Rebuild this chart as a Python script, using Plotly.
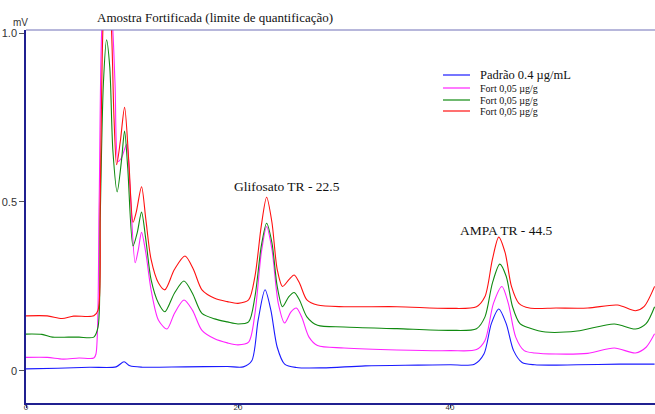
import plotly.graph_objects as go

# ---- data (retention time in min, signal in mV) ----
red_t = [0, 2, 3.4, 4.5, 6.4, 6.8, 7.0, 7.3, 7.6, 8.0, 8.3, 8.55, 8.9, 9.3, 9.7, 10.1, 10.4, 10.9, 11.3, 11.8,
         12.5, 13.1, 14.0, 15.0, 15.8, 16.6, 17.8, 19, 20, 21, 21.6, 22.2, 22.7, 23.2, 23.7, 24.2, 24.8, 25.3,
         25.8, 26.5, 27.5, 30, 35, 40, 42.5, 43.3, 44.0, 44.6, 45.2, 45.8, 46.5, 47.5, 50, 53, 55.8, 57.5, 58.3, 59.3]
red_v = [0.163, 0.163, 0.155, 0.162, 0.163, 0.18, 0.5, 1.05, 1.15, 1.05, 0.75, 0.61, 0.68, 0.78, 0.62, 0.44, 0.47,
         0.545, 0.45, 0.33, 0.26, 0.24, 0.30, 0.34, 0.30, 0.24, 0.215, 0.205, 0.2, 0.21, 0.28, 0.43, 0.514, 0.44,
         0.30, 0.25, 0.27, 0.284, 0.26, 0.21, 0.195, 0.19, 0.19, 0.185, 0.19, 0.22, 0.33, 0.396, 0.35, 0.25, 0.2,
         0.186, 0.186, 0.186, 0.195, 0.178, 0.19, 0.25]

green_t = [0, 1.5, 2.5, 4, 5, 6.4, 6.8, 7.0, 7.3, 7.6, 7.9, 8.2, 8.6, 9.0, 9.3, 9.6, 10.1, 10.5, 10.9, 11.3, 11.8,
           12.5, 13.1, 14.0, 14.9, 15.7, 16.6, 17.8, 19, 20, 21, 21.6, 22.2, 22.7, 23.2, 23.7, 24.2, 24.8, 25.3,
           25.8, 26.5, 27.5, 30, 35, 40, 42.5, 43.3, 44.0, 44.7, 45.3, 45.9, 46.6, 47.5, 49, 52, 55.5, 57.5, 58.5, 59.3]
green_v = [0.109, 0.108, 0.10, 0.10, 0.10, 0.10, 0.13, 0.45, 0.85, 0.98, 0.9, 0.65, 0.53, 0.62, 0.71, 0.6, 0.37,
           0.41, 0.47, 0.39, 0.27, 0.20, 0.175, 0.23, 0.266, 0.23, 0.17, 0.154, 0.145, 0.139, 0.145, 0.22, 0.37,
           0.437, 0.38, 0.25, 0.19, 0.22, 0.232, 0.21, 0.16, 0.135, 0.13, 0.125, 0.12, 0.125, 0.16, 0.26, 0.316,
           0.28, 0.19, 0.14, 0.127, 0.115, 0.118, 0.139, 0.124, 0.14, 0.19]

magenta_t = [0, 2, 3.5, 5, 6.4, 6.6, 6.9, 7.2, 7.6, 8.1, 8.4, 8.7, 9.0, 9.5, 9.8, 10.3, 10.6, 10.9, 11.3, 11.8,
             12.5, 13.3, 14.0, 14.9, 15.7, 16.6, 17.8, 19, 20, 21, 21.6, 22.2, 22.7, 23.2, 23.8, 24.4, 25.0, 25.5,
             26.0, 26.7, 27.5, 30, 35, 40, 42.5, 43.3, 44.1, 44.9, 45.5, 46.2, 47, 48, 50, 53, 55.5, 57.5, 58.5, 59.3]
magenta_v = [0.040, 0.040, 0.035, 0.038, 0.038, 0.05, 0.5, 1.05, 1.15, 1.05, 0.85, 0.62, 0.63, 0.67, 0.55, 0.32,
             0.36, 0.41, 0.35, 0.24, 0.15, 0.124, 0.17, 0.21, 0.18, 0.12, 0.095, 0.083, 0.077, 0.085, 0.17, 0.35,
             0.427, 0.36, 0.2, 0.142, 0.175, 0.186, 0.16, 0.1, 0.075, 0.068, 0.062, 0.06, 0.063, 0.09, 0.2, 0.25,
             0.2, 0.1, 0.06, 0.053, 0.05, 0.052, 0.068, 0.053, 0.07, 0.11]

blue_t = [0, 3, 6, 8.5, 9.25, 9.8, 11, 15, 19, 20.5, 21.3, 21.9, 22.55, 23.1, 23.7, 24.4, 25.5, 28, 32, 37, 40,
          42.3, 43.2, 43.9, 44.6, 45.3, 46.0, 46.8, 48, 52, 56, 59.3]
blue_v = [0.006, 0.008, 0.011, 0.012, 0.027, 0.015, 0.011, 0.012, 0.013, 0.012, 0.03, 0.15, 0.24, 0.18, 0.07, 0.02,
          0.01, 0.009, 0.015, 0.017, 0.018, 0.02, 0.05, 0.14, 0.183, 0.14, 0.06, 0.025, 0.018, 0.018, 0.02, 0.02]

series_names = ["Padrão 0.4 µg/mL", "Fort 0,05 µg/g", "Fort 0,05 µg/g", "Fort 0,05 µg/g"]
series_colors = ["#1a1aff", "#ff22ff", "#108a10", "#ff1010"]
series_t = [blue_t, magenta_t, green_t, red_t]
series_v = [blue_v, magenta_v, green_v, red_v]

x_ticks = [0, 20, 40]
y_ticks = [0, 0.5, 1.0]
y_ticktext = ["0", "0.5", "1.0"]

peak_labels = ["Glifosato TR - 22.5", "AMPA TR - 44.5"]
peak_label_x = [24.6, 45.3]
peak_label_y = [0.545, 0.417]

fig = go.Figure()
for t, v, c, n in zip(series_t, series_v, series_colors, series_names):
    fig.add_trace(go.Scatter(x=t, y=v, mode="lines", name=n,
                             line=dict(color=c, width=1.1, shape="spline", smoothing=0.8),
                             showlegend=False))

W, H = 655, 414
ml, mr, mt, mb = 26, 0, 30, 11
pw, ph = W - ml - mr, H - mt - mb

fig.update_layout(
    width=W, height=H,
    margin=dict(l=ml, r=mr, t=mt, b=mb, autoexpand=False),
    paper_bgcolor="white", plot_bgcolor="white",
    showlegend=False,
    xaxis=dict(range=[0, 59.34], tickvals=x_ticks, showgrid=False, zeroline=False, automargin=False,
               showline=True, linecolor="#202090", linewidth=1.5,
               ticks="outside", ticklen=3, tickcolor="#202090", ticklabelstandoff=-7,
               tickfont=dict(family="Liberation Sans", size=8, color="#333")),
    yaxis=dict(range=[-0.095, 1.009], tickvals=y_ticks, ticktext=y_ticktext, automargin=False,
               showgrid=False, zeroline=False,
               showline=True, linecolor="#202090", linewidth=1.5,
               ticks="outside", ticklen=5, tickcolor="#555",
               tickfont=dict(family="Liberation Sans", size=11, color="#333")),
)

# top frame line
fig.add_shape(type="line", xref="paper", yref="paper", x0=0, x1=1, y0=1, y1=1,
              line=dict(color="#7070b8", width=1.2))

# title & unit
fig.add_annotation(text="Amostra Fortificada (limite de quantificação)", xref="paper", yref="paper",
                   x=(215 - ml) / pw, y=1 + 12 / ph, showarrow=False, xanchor="center", yanchor="middle",
                   font=dict(family="Liberation Serif", size=13, color="#111"))
fig.add_annotation(text="mV", xref="paper", yref="paper", x=(11 - ml) / pw, y=1 + 7 / ph,
                   showarrow=False, xanchor="left", yanchor="middle",
                   font=dict(family="Liberation Sans", size=10, color="#333"))

for txt, px_, py_ in zip(peak_labels, peak_label_x, peak_label_y):
    fig.add_annotation(text=txt, x=px_, y=py_, showarrow=False, xanchor="center", yanchor="middle",
                       font=dict(family="Liberation Serif", size=13.5, color="#111"))

# legend (compact, drawn in paper coordinates)
row_y = [75, 88, 100, 111]
row_size = [12.5, 10, 10, 10]
for n, c, ry, fs in zip(series_names, series_colors, row_y, row_size):
    yp = (H - mb - ry) / ph
    fig.add_shape(type="line", xref="paper", yref="paper",
                  x0=(443 - ml) / pw, x1=(470 - ml) / pw, y0=yp, y1=yp,
                  line=dict(color=c, width=1.2))
    fig.add_annotation(text=n, xref="paper", yref="paper", x=(478 - ml) / pw, y=yp,
                       showarrow=False, xanchor="left", yanchor="middle",
                       font=dict(family="Liberation Sans", size=fs, color="#111") if False else
                       dict(family="Liberation Serif", size=fs, color="#111"))

fig.write_html("out.html")
